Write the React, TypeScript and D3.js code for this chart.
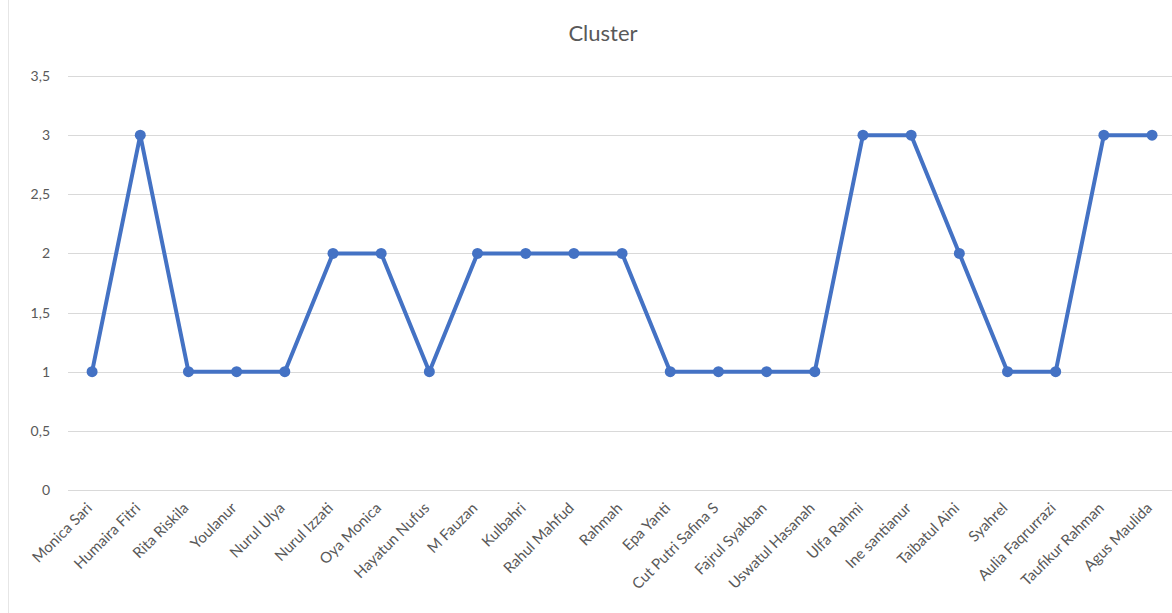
import * as d3 from 'd3';
import { useEffect, useRef } from 'react';

const names = [
  'Monica Sari', 'Humaira Fitri', 'Rita Riskila', 'Youlanur', 'Nurul Ulya', 'Nurul Izzati',
  'Oya Monica', 'Hayatun Nufus', 'M Fauzan', 'Kulbahri', 'Rahul Mahfud', 'Rahmah', 'Epa Yanti',
  'Cut Putri Safina S', 'Fajrul Syakban', 'Uswatul Hasanah', 'Ulfa Rahmi', 'Ine santianur',
  'Taibatul Aini', 'Syahrel', 'Aulia Faqrurrazi', 'Taufikur Rahman', 'Agus Maulida',
];
const cluster = [1, 3, 1, 1, 1, 2, 2, 1, 2, 2, 2, 2, 1, 1, 1, 1, 3, 3, 2, 1, 1, 3, 3];
const yTicks = [0, 0.5, 1, 1.5, 2, 2.5, 3, 3.5];

export default function App() {
  const ref = useRef<SVGSVGElement | null>(null);

  useEffect(() => {
    if (!ref.current) return;
    const svg = d3.select(ref.current);
    svg.selectAll('*').remove();

    const width = 1172;
    const height = 613;
    const font = 'Lato, "Open Sans", sans-serif';

    const x = d3.scaleBand<string>().domain(names).range([68, 68 + 23 * 48.18]);
    const y = d3.scaleLinear().domain([0, 3.5]).range([490, 76]);
    const cx = (n: string) => (x(n) || 0) + x.bandwidth() / 2;

    // faint left edge line
    svg.append('line').attr('x1', 8.5).attr('x2', 8.5).attr('y1', 0).attr('y2', height)
      .attr('stroke', '#e6e6e6').attr('stroke-width', 1);

    // title
    svg.append('text').attr('x', 603).attr('y', 41).attr('text-anchor', 'middle')
      .attr('font-family', font).attr('font-size', 22).attr('fill', '#595959').text('Cluster');

    // grid
    svg.append('g').selectAll('line').data(yTicks).enter().append('line')
      .attr('x1', 68).attr('x2', width)
      .attr('y1', (d) => Math.round(y(d)) + 0.5).attr('y2', (d) => Math.round(y(d)) + 0.5)
      .attr('stroke', '#d9d9d9').attr('stroke-width', 1);

    // y labels
    svg.append('g').selectAll('text').data(yTicks).enter().append('text')
      .attr('x', 50).attr('y', (d) => y(d) + 5).attr('text-anchor', 'end')
      .attr('font-family', font).attr('font-size', 14).attr('fill', '#595959')
      .text((d) => String(d).replace('.', ','));

    // x labels
    svg.append('g').selectAll('text').data(names).enter().append('text')
      .attr('transform', (d) => `translate(${cx(d) + 1}, 509) rotate(-45)`)
      .attr('text-anchor', 'end')
      .attr('font-family', font).attr('font-size', 15).attr('fill', '#595959')
      .text((d) => d);

    // line
    const line = d3.line<number>().x((_, i) => cx(names[i])).y((d) => y(d));
    svg.append('path').datum(cluster).attr('d', line).attr('fill', 'none')
      .attr('stroke', '#4472C4').attr('stroke-width', 4).attr('stroke-linejoin', 'round');

    svg.append('g').selectAll('circle').data(cluster).enter().append('circle')
      .attr('cx', (_, i) => cx(names[i])).attr('cy', (d) => y(d)).attr('r', 5.5)
      .attr('fill', '#4472C4');
  }, []);

  return (
    <svg ref={ref} width={1172} height={613} style={{ position: 'absolute', left: 0, top: 0 }} />
  );
}
